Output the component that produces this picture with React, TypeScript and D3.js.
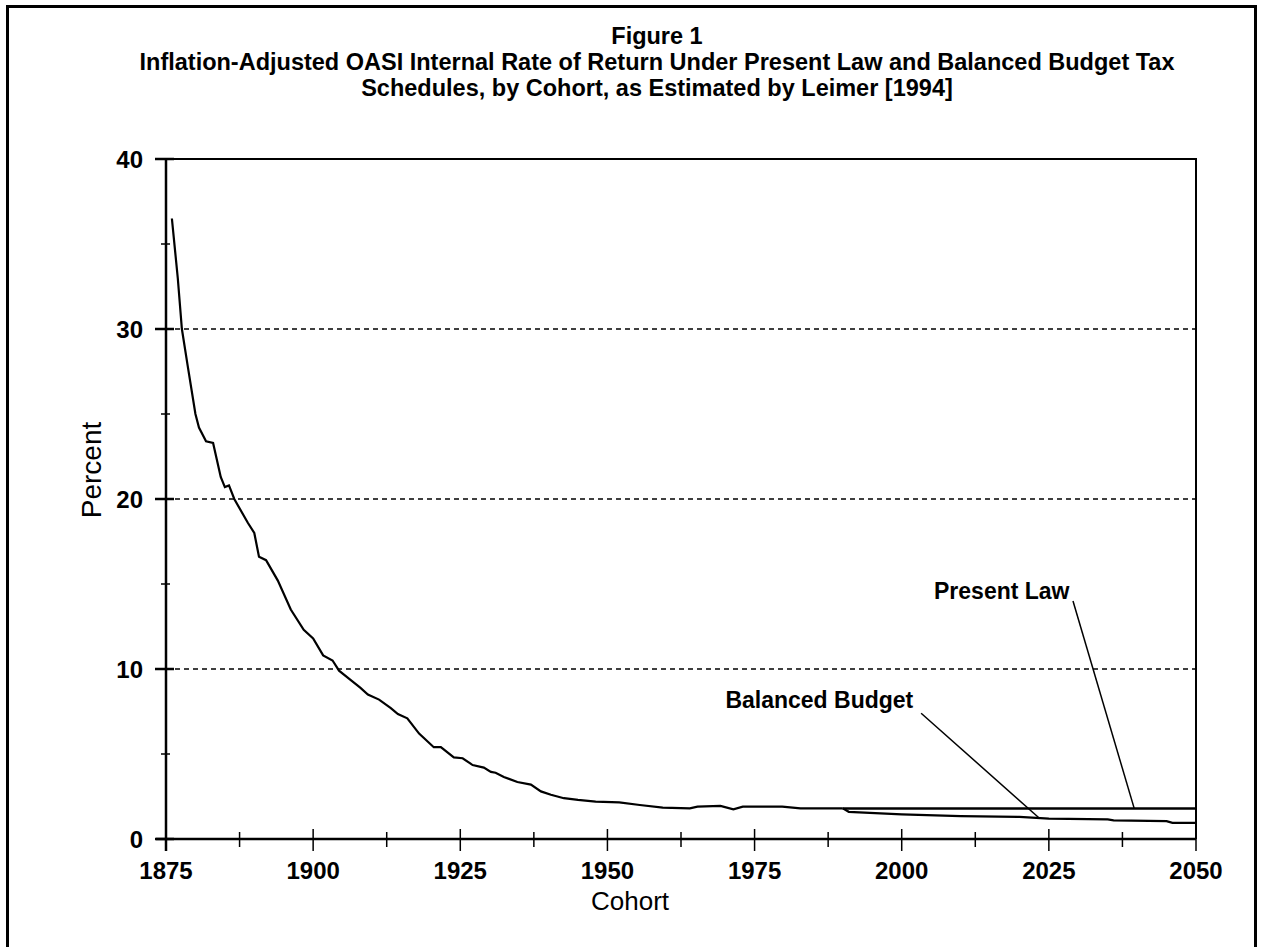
import { useRef, useEffect } from "react";
import * as d3 from "d3";

const WIDTH = 1264;
const HEIGHT = 947;
const MARGIN = { top: 159, right: 68, bottom: 108, left: 166 };
const INNER_W = WIDTH - MARGIN.left - MARGIN.right;
const INNER_H = HEIGHT - MARGIN.top - MARGIN.bottom;
const FONT = "'Liberation Sans', Arial, Helvetica, sans-serif";

const TITLE_LINES = [
  "Figure 1",
  "Inflation-Adjusted OASI Internal Rate of Return Under Present Law and Balanced Budget Tax",
  "Schedules, by Cohort, as Estimated by Leimer [1994]",
];

const X_LABELS = [1875, 1900, 1925, 1950, 1975, 2000, 2025, 2050];
const Y_LABELS = [0, 10, 20, 30, 40];
const Y_GRID = [10, 20, 30];

// shared path for both schedules up to ~1990
const histYears = [
  1876, 1877, 1877.7, 1878.7, 1880, 1880.6, 1881.8, 1883, 1884.3, 1885, 1885.7, 1886.6,
  1888.9, 1890, 1890.8, 1892, 1894, 1896.2, 1898.4, 1900, 1901.7, 1903.3, 1904.4, 1906.4,
  1908, 1909.3, 1911.2, 1913.2, 1914.4, 1916, 1918, 1920.5, 1921.7, 1923.9, 1925.4, 1927.1,
  1929, 1930.2, 1931, 1932.4, 1934.7, 1937, 1938.7, 1940.4, 1942.6, 1945, 1948, 1952,
  1955.5, 1959.4, 1964, 1965.3, 1969.2, 1971.4, 1973, 1979.7, 1982.8, 1990,
];
const histRate = [
  36.5, 33.0, 30.0, 27.8, 25.0, 24.2, 23.4, 23.3, 21.3, 20.7, 20.8, 20.0,
  18.6, 18.0, 16.6, 16.4, 15.2, 13.5, 12.3, 11.8, 10.8, 10.5, 9.9, 9.35,
  8.9, 8.5, 8.2, 7.7, 7.35, 7.1, 6.2, 5.4, 5.4, 4.8, 4.75, 4.35,
  4.2, 3.95, 3.9, 3.65, 3.35, 3.2, 2.8, 2.6, 2.4, 2.3, 2.2, 2.15,
  2.0, 1.85, 1.8, 1.9, 1.95, 1.75, 1.9, 1.9, 1.8, 1.8,
];

const presentLawYears = [1990, 2050];
const presentLawRate = [1.8, 1.8];

const balancedYears = [1990, 1991, 2000, 2010, 2020, 2025, 2035, 2036, 2045, 2046, 2050];
const balancedRate = [1.8, 1.6, 1.45, 1.35, 1.3, 1.2, 1.15, 1.1, 1.05, 0.95, 0.95];

export default function App() {
  const svgRef = useRef<SVGSVGElement>(null);

  useEffect(() => {
    const svg = d3.select(svgRef.current);
    svg.selectAll("*").remove();

    const x = d3.scaleLinear().domain([1875, 2050]).range([0, INNER_W]);
    const y = d3.scaleLinear().domain([0, 40]).range([INNER_H, 0]);

    svg.append("rect").attr("width", WIDTH).attr("height", HEIGHT).attr("fill", "#fff");

    // outer frame (no bottom edge in the scan)
    svg.append("path")
      .attr("d", `M7.5,${HEIGHT} V6.5 H1255.5 V${HEIGHT}`)
      .attr("fill", "none")
      .attr("stroke", "#000")
      .attr("stroke-width", 3);

    // title
    svg.append("g")
      .selectAll("text")
      .data(TITLE_LINES)
      .join("text")
      .attr("x", 657)
      .attr("y", (_, i) => 44 + i * 26)
      .attr("text-anchor", "middle")
      .attr("font-family", FONT)
      .attr("font-weight", "bold")
      .attr("font-size", "23.5px")
      .text((d) => d);

    const g = svg.append("g").attr("transform", `translate(${MARGIN.left},${MARGIN.top})`);

    // dashed grid
    g.append("g")
      .selectAll("line")
      .data(Y_GRID)
      .join("line")
      .attr("x1", 0)
      .attr("x2", INNER_W)
      .attr("y1", (d) => y(d))
      .attr("y2", (d) => y(d))
      .attr("stroke", "#000")
      .attr("stroke-width", 1.5)
      .attr("stroke-dasharray", "5,4");

    // frame: top + right
    g.append("path")
      .attr("d", `M-10,0 H${INNER_W} V${INNER_H}`)
      .attr("fill", "none")
      .attr("stroke", "#000")
      .attr("stroke-width", 2);

    // y axis
    const yAxis = g.append("g");
    yAxis.append("line")
      .attr("x1", 0).attr("x2", 0).attr("y1", 0).attr("y2", INNER_H + 12)
      .attr("stroke", "#000").attr("stroke-width", 2.5);
    yAxis.selectAll("line.tick")
      .data(d3.range(0, 41, 5))
      .join("line")
      .attr("class", "tick")
      .attr("x1", (d) => (d % 10 === 0 ? -11 : -5))
      .attr("x2", (d) => (d % 10 === 0 ? 8 : 4))
      .attr("y1", (d) => y(d))
      .attr("y2", (d) => y(d))
      .attr("stroke", "#000")
      .attr("stroke-width", (d) => (d % 10 === 0 ? 2.5 : 1.5));
    yAxis.selectAll("text")
      .data(Y_LABELS)
      .join("text")
      .attr("x", -23)
      .attr("y", (d) => y(d))
      .attr("dy", "0.36em")
      .attr("text-anchor", "end")
      .attr("font-family", FONT)
      .attr("font-weight", "bold")
      .attr("font-size", "24px")
      .text((d) => d);

    // x axis
    const xAxis = g.append("g").attr("transform", `translate(0,${INNER_H})`);
    xAxis.append("line")
      .attr("x1", -10).attr("x2", INNER_W).attr("y1", 0).attr("y2", 0)
      .attr("stroke", "#000").attr("stroke-width", 2.5);
    xAxis.selectAll("line.tick")
      .data(d3.range(1875, 2051, 12.5))
      .join("line")
      .attr("class", "tick")
      .attr("x1", (d) => x(d))
      .attr("x2", (d) => x(d))
      .attr("y1", (d) => ((d - 1875) % 25 === 0 ? -10 : -7))
      .attr("y2", (d) => ((d - 1875) % 25 === 0 ? 12 : 8))
      .attr("stroke", "#000")
      .attr("stroke-width", 1.5);
    xAxis.selectAll("text")
      .data(X_LABELS)
      .join("text")
      .attr("x", (d) => x(d))
      .attr("y", 40)
      .attr("text-anchor", "middle")
      .attr("font-family", FONT)
      .attr("font-weight", "bold")
      .attr("font-size", "24px")
      .text((d) => d);

    // axis titles
    svg.append("text")
      .attr("transform", `translate(101,470) rotate(-90)`)
      .attr("text-anchor", "middle")
      .attr("font-family", FONT)
      .attr("font-size", "28px")
      .text("Percent");
    svg.append("text")
      .attr("x", 630)
      .attr("y", 910)
      .attr("text-anchor", "middle")
      .attr("font-family", FONT)
      .attr("font-size", "26px")
      .text("Cohort");

    // series
    const line = d3.line<[number, number]>()
      .x((d) => x(d[0]))
      .y((d) => y(d[1]));
    const zip = (a: number[], b: number[]) => a.map((v, i) => [v, b[i]] as [number, number]);

    g.append("path")
      .attr("d", line(zip(histYears, histRate)))
      .attr("fill", "none").attr("stroke", "#000").attr("stroke-width", 2.2);
    g.append("path")
      .attr("d", line(zip(presentLawYears, presentLawRate)))
      .attr("fill", "none").attr("stroke", "#000").attr("stroke-width", 2.5);
    g.append("path")
      .attr("d", line(zip(balancedYears, balancedRate)))
      .attr("fill", "none").attr("stroke", "#000").attr("stroke-width", 2.2);

    // annotations
    const notes = [
      { label: "Present Law", tx: 2017, ty: 14.6, from: [2029.1, 14.0], to: [2039.5, 1.8] },
      { label: "Balanced Budget", tx: 1986, ty: 8.2, from: [2003.3, 7.4], to: [2023.3, 1.25] },
    ];
    notes.forEach((n) => {
      g.append("text")
        .attr("x", x(n.tx))
        .attr("y", y(n.ty))
        .attr("dy", "0.36em")
        .attr("text-anchor", "middle")
        .attr("font-family", FONT)
        .attr("font-weight", "bold")
        .attr("font-size", "23px")
        .text(n.label);
      g.append("line")
        .attr("x1", x(n.from[0])).attr("y1", y(n.from[1]))
        .attr("x2", x(n.to[0])).attr("y2", y(n.to[1]))
        .attr("stroke", "#000").attr("stroke-width", 1.5);
    });
  }, []);

  return (
    <div style={{ position: "absolute", left: 0, top: 0 }}>
      <svg ref={svgRef} width={WIDTH} height={HEIGHT} style={{ display: "block" }} />
    </div>
  );
}
